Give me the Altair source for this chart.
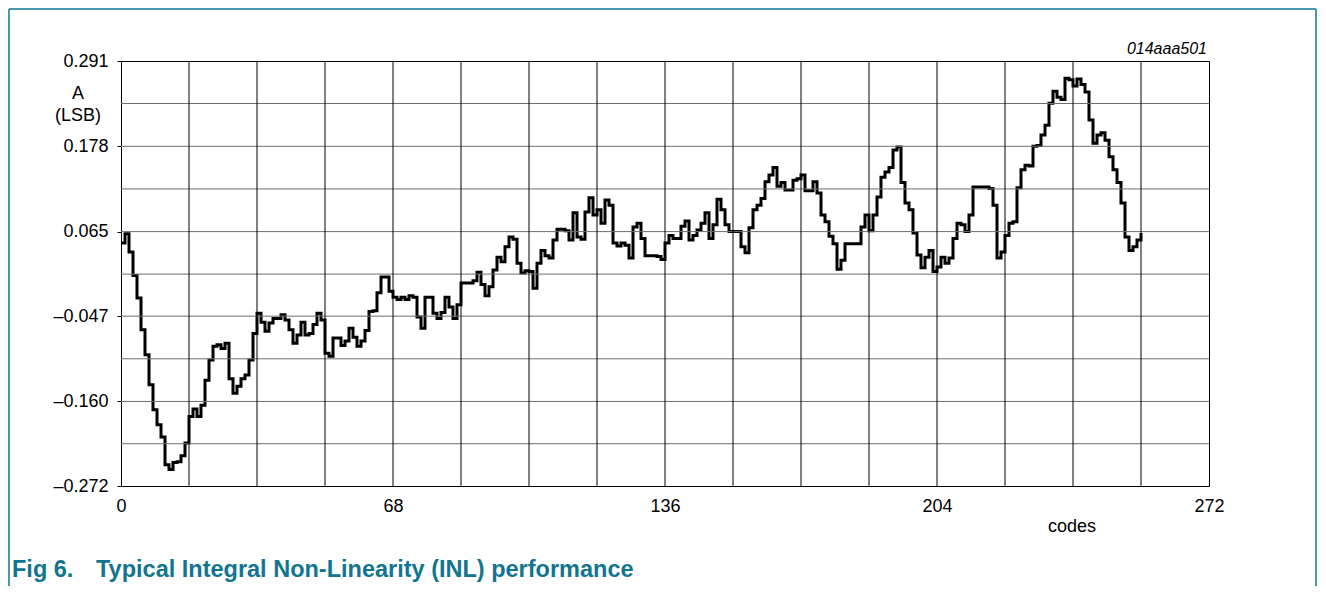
import altair as alt
import pandas as pd

# ---- data ----
codes = list(range(256))
inl = [
    0.050, 0.062, 0.038, 0.007, -0.023, -0.065, -0.098, -0.138, -0.171, -0.191,
    -0.207, -0.244, -0.250, -0.241, -0.240, -0.232, -0.215, -0.180, -0.170, -0.180,
    -0.165, -0.132, -0.105, -0.087, -0.085, -0.090, -0.083, -0.130, -0.149, -0.140,
    -0.130, -0.125, -0.105, -0.070, -0.043, -0.055, -0.067, -0.056, -0.050, -0.050,
    -0.045, -0.052, -0.065, -0.083, -0.072, -0.055, -0.072, -0.070, -0.058, -0.043,
    -0.052, -0.096, -0.100, -0.076, -0.076, -0.086, -0.080, -0.063, -0.075, -0.087,
    -0.080, -0.066, -0.041, -0.040, -0.016, 0.005, 0.005, -0.014, -0.022, -0.025,
    -0.022, -0.025, -0.020, -0.022, -0.048, -0.063, -0.022, -0.022, -0.043, -0.050,
    -0.042, -0.022, -0.035, -0.050, -0.032, -0.003, -0.003, -0.003, 0.000, 0.011,
    -0.005, -0.020, -0.008, 0.014, 0.031, 0.025, 0.045, 0.058, 0.055, 0.023,
    0.010, 0.013, 0.012, -0.010, 0.023, 0.040, 0.033, 0.030, 0.054, 0.068,
    0.068, 0.066, 0.054, 0.090, 0.058, 0.055, 0.091, 0.110, 0.087, 0.094,
    0.076, 0.107, 0.100, 0.050, 0.046, 0.050, 0.047, 0.030, 0.071, 0.076,
    0.056, 0.033, 0.033, 0.033, 0.032, 0.028, 0.050, 0.060, 0.056, 0.056,
    0.072, 0.079, 0.054, 0.060, 0.067, 0.076, 0.090, 0.056, 0.074, 0.108,
    0.094, 0.074, 0.065, 0.065, 0.065, 0.045, 0.037, 0.070, 0.094, 0.100,
    0.109, 0.131, 0.140, 0.150, 0.125, 0.130, 0.120, 0.120, 0.133, 0.135,
    0.140, 0.119, 0.119, 0.131, 0.116, 0.087, 0.078, 0.059, 0.049, 0.015,
    0.027, 0.049, 0.049, 0.049, 0.049, 0.071, 0.087, 0.066, 0.087, 0.111,
    0.137, 0.144, 0.150, 0.173, 0.177, 0.130, 0.103, 0.094, 0.063, 0.034,
    0.017, 0.031, 0.040, 0.012, 0.018, 0.031, 0.023, 0.030, 0.056, 0.076,
    0.074, 0.065, 0.087, 0.124, 0.124, 0.124, 0.124, 0.122, 0.100, 0.030,
    0.038, 0.060, 0.076, 0.078, 0.123, 0.147, 0.153, 0.152, 0.178, 0.179,
    0.193, 0.206, 0.235, 0.251, 0.243, 0.240, 0.268, 0.266, 0.258, 0.267,
    0.260, 0.250, 0.213, 0.182, 0.193, 0.196, 0.186, 0.164, 0.147, 0.130,
    0.103, 0.058, 0.040, 0.045, 0.054, 0.063,
]

x_grid = [17, 34, 51, 68, 85, 102, 119, 136, 153, 170, 187, 204, 221, 238, 255]
y_grid = [0.2347, 0.178, 0.1215, 0.065, 0.0087, -0.047, -0.1035, -0.160, -0.216]
x_tick_values = [0, 68, 136, 204, 272]
y_tick_values = [0.291, 0.178, 0.065, -0.047, -0.160, -0.272]
y_tick_labels = ["0.291", "0.178", "0.065", "\u20130.047", "\u20130.160", "\u20130.272"]

x_domain = [0, 272]
y_domain = [-0.272, 0.291]

# ---- build ----
W, H = 1088, 425
FONT = "Liberation Sans"
TEAL = "#127590"

label_expr = "''"
for v, l in reversed(list(zip(y_tick_values, y_tick_labels))):
    label_expr = f"abs(datum.value - ({v})) < 0.0005 ? '{l}' : ({label_expr})"

xs = alt.Scale(domain=x_domain, nice=False, zero=False)
ys = alt.Scale(domain=y_domain, nice=False, zero=False)

x_axis = alt.Axis(values=x_tick_values, format="d", tickSize=0, labelPadding=11,
                  labelFlush=False, grid=False, domain=False, title=None)
y_axis = alt.Axis(values=y_tick_values, labelExpr=label_expr, tickSize=4,
                  labelPadding=9, labelFlush=False, grid=False, domain=False, title=None)

df = pd.DataFrame({"code": codes, "inl": inl})

line = alt.Chart(df).mark_line(color="#000000", strokeWidth=3, interpolate="step-after").encode(
    x=alt.X("code:Q", scale=xs, axis=x_axis, title=None),
    y=alt.Y("inl:Q", scale=ys, axis=y_axis, title=None),
)
vg = alt.Chart(pd.DataFrame({"gx": x_grid})).mark_rule(color="#000000", strokeWidth=1).encode(
    x=alt.X("gx:Q", scale=xs, axis=x_axis, title=None)
)
hg = alt.Chart(pd.DataFrame({"gy": y_grid})).mark_rule(color="#6e6e6e", strokeWidth=1).encode(
    y=alt.Y("gy:Q", scale=ys, axis=y_axis, title=None)
)

one = pd.DataFrame({"k": [0]})


def txt(text, x, y, size=18, align="center", weight="normal", style="normal", color="#000000"):
    return alt.Chart(one).mark_text(
        text=text, font=FONT, fontSize=size, align=align, baseline="middle",
        fontWeight=weight, fontStyle=style, color=color,
    ).encode(x=alt.value(x), y=alt.value(y))


# page coords -> plot coords: subtract (121, 61)
texts = [
    txt("A", -43, 33),
    txt("(LSB)", -43, 55),
    txt("codes", 951, 466),
    txt("014aaa501", 1086, -12, size=16, align="right", style="italic"),
    txt("Fig 6.", -109, 509, size=23.5, align="left", weight="bold", color=TEAL),
    txt("Typical Integral Non-Linearity (INL) performance", -25, 509, size=23.5,
        align="left", weight="bold", color=TEAL),
]


def rule(x, x2, y, y2):
    return alt.Chart(one).mark_rule(color=TEAL, strokeWidth=1.5).encode(
        x=alt.value(x), x2=alt.value(x2), y=alt.value(y), y2=alt.value(y2)
    )


frame = [
    rule(-112, -112, -52, 530),
    rule(-112, 1195, -52, -52),
    rule(1195, 1195, -52, 530),
]

chart = alt.layer(line, hg, vg, *texts, *frame).properties(
    width=W, height=H,
    autosize=alt.AutoSizeParams(type="none"),
    padding={"left": 113, "top": 53, "right": 109, "bottom": 100},
).configure_view(stroke="#000000", strokeWidth=1).configure_axis(
    labelFont=FONT, labelFontSize=18, labelColor="#000000", tickColor="#000000",
)

chart.save("out.html", embed_options={"renderer": "svg", "actions": False})
